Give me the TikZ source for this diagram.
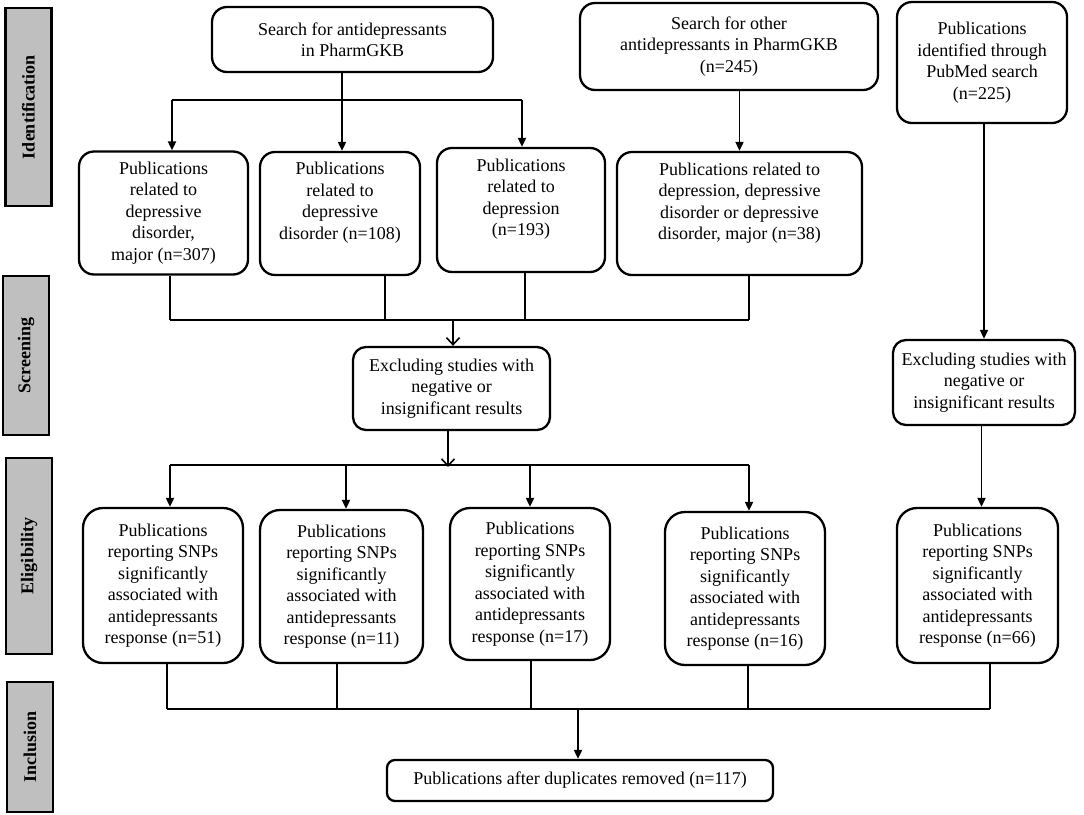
\documentclass[tikz,border=0pt]{standalone}
\usepackage{fontspec}
\setmainfont{Liberation Serif}
\usetikzlibrary{arrows.meta}
\begin{document}
\begin{tikzpicture}[x=1pt,y=-1pt,
  box/.style={draw, line width=2.3pt, rounded corners=15pt, align=center, inner sep=2pt,
    font=\fontsize{18}{21.5}\selectfont},
  sidebar/.style={draw, line width=2.6pt, fill=gray!50, minimum width=46pt, inner sep=0pt},
  sidelabel/.style={rotate=90, font=\fontsize{18}{21}\selectfont\bfseries},
  conn/.style={line width=1.9pt},
  arr/.style={conn, -{Triangle[length=9pt,width=8pt]}},
  varr/.style={conn, -{Straight Barb[length=7pt,width=13pt,line width=1.6pt]}}
]
\useasboundingbox (0,0) rectangle (1084,814);

% side bars
\node[sidebar, minimum height=198pt] (id) at (28.5,107) {};
\node[sidelabel] at (id.center) {Identification};
\node[sidebar, minimum height=159pt] (sc) at (26,355.5) {};
\node[sidelabel] at (sc.center) {Screening};
\node[sidebar, minimum height=196pt] (el) at (29,556) {};
\node[sidelabel] at (el.center) {Eligibility};
\node[sidebar, minimum height=130pt] (in) at (30,747) {};
\node[sidelabel] at (in.center) {Inclusion};

% top row
\node[box, minimum width=281pt, minimum height=65pt] (s1) at (352.5,39.5)
  {Search for antidepressants\\in PharmGKB};
\node[box, minimum width=298pt, minimum height=87pt] (s2) at (729,46.5)
  {Search for other\\antidepressants in PharmGKB\\(n=245)};
\node[box, minimum width=170pt, minimum height=121pt] (s3) at (982,62.5)
  {Publications\\identified through\\PubMed search\\(n=225)};

% second row
\node[box, minimum width=169pt, minimum height=123pt] (b1) at (163.5,213)
  {Publications\\related to\\depressive\\disorder,\\major (n=307)};
\node[box, minimum width=160pt, minimum height=123pt] (b2) at (340,213.5)
  {Publications\\related to\\depressive\\disorder (n=108)\\[4pt]};
\node[box, minimum width=168pt, minimum height=124pt] (b3) at (521,210)
  {Publications\\related to\\depression\\(n=193)\\[4pt]};
\node[box, minimum width=245pt, minimum height=123pt] (b4) at (739.5,213.5)
  {Publications related to\\depression, depressive\\disorder or depressive\\disorder, major (n=38)\\[3pt]};

% screening
\node[box, rounded corners=13pt, minimum width=197pt, minimum height=83pt] (e1) at (451.5,388.5)
  {Excluding studies with\\negative or\\insignificant results};
\node[box, rounded corners=13pt, minimum width=182pt, minimum height=85pt] (e2) at (984,382.5)
  {Excluding studies with\\negative or\\insignificant results};

% eligibility row
\node[box, rounded corners=20pt, minimum width=160pt, minimum height=155pt] (r1) at (163,585.5)
  {Publications\\reporting SNPs\\significantly\\associated with\\antidepressants\\response (n=51)};
\node[box, rounded corners=20pt, minimum width=163pt, minimum height=153pt] (r2) at (341.5,586.5)
  {Publications\\reporting SNPs\\significantly\\associated with\\antidepressants\\response (n=11)};
\node[box, rounded corners=20pt, minimum width=160pt, minimum height=152pt] (r3) at (530,584)
  {Publications\\reporting SNPs\\significantly\\associated with\\antidepressants\\response (n=17)};
\node[box, rounded corners=20pt, minimum width=160pt, minimum height=153pt] (r4) at (745,588.5)
  {Publications\\reporting SNPs\\significantly\\associated with\\antidepressants\\response (n=16)};
\node[box, rounded corners=20pt, minimum width=161pt, minimum height=155pt] (r5) at (977.5,585.5)
  {Publications\\reporting SNPs\\significantly\\associated with\\antidepressants\\response (n=66)};

% final
\node[box, rounded corners=8pt, minimum width=386pt, minimum height=41pt] (f) at (580,780.5)
  {Publications after duplicates removed (n=117)};

% junction coordinates
\coordinate (j1) at (342,100);
\coordinate (j2) at (453,320);
\coordinate (j3) at (448,465);
\coordinate (j4) at (578,709);

% top connectors
\draw[conn] (s1.south -| j1) -- (j1);
\draw[conn] ([xshift=8.5pt]b1.north |- j1) -- ([xshift=1pt]b3.north |- j1);
\draw[arr] ([xshift=8.5pt]b1.north |- j1) -- ([xshift=8.5pt]b1.north);
\draw[arr] (j1) -- (j1 |- b2.north);
\draw[arr] ([xshift=1pt]b3.north |- j1) -- ([xshift=1pt]b3.north);
\draw[arr] (s2.south -| b4.north) -- (b4.north);
\draw[arr] (s3.south -| e2.north) -- (e2.north);

% second row to screening
\draw[conn] ([xshift=6.5pt]b1.south) -- ([xshift=6.5pt]b1.south |- j2);
\draw[conn] ([xshift=45pt]b2.south) -- ([xshift=45pt]b2.south |- j2);
\draw[conn] ([xshift=4pt]b3.south) -- ([xshift=4pt]b3.south |- j2);
\draw[conn] ([xshift=9.5pt]b4.south) -- ([xshift=9.5pt]b4.south |- j2);
\draw[conn] ([xshift=6.5pt]b1.south |- j2) -- ([xshift=9.5pt]b4.south |- j2);
\draw[varr] (j2) -- (j2 |- e1.north);

% screening to eligibility
\draw[varr] (e1.south -| j3) -- ([yshift=-2pt]j3);
\draw[conn] ([xshift=7pt]r1.north |- j3) -- ([xshift=4pt]r4.north |- j3);
\draw[arr] ([xshift=7pt]r1.north |- j3) -- ([xshift=7pt]r1.north);
\draw[arr] ([xshift=4.5pt]r2.north |- j3) -- ([xshift=4.5pt]r2.north);
\draw[arr] (r3.north |- j3) -- (r3.north);
\draw[arr] ([xshift=4pt]r4.north |- j3) -- ([xshift=4pt]r4.north);
\draw[arr] ([xshift=4pt]r5.north |- e2.south) -- ([xshift=4pt]r5.north);

% eligibility to inclusion
\draw[conn] ([xshift=4pt]r1.south) -- ([xshift=4pt]r1.south |- j4);
\draw[conn] ([xshift=-4.5pt]r2.south) -- ([xshift=-4.5pt]r2.south |- j4);
\draw[conn] ([xshift=1pt]r3.south) -- ([xshift=1pt]r3.south |- j4);
\draw[conn] ([xshift=3pt]r4.south) -- ([xshift=3pt]r4.south |- j4);
\draw[conn] ([xshift=12.5pt]r5.south) -- ([xshift=12.5pt]r5.south |- j4);
\draw[conn] ([xshift=4pt]r1.south |- j4) -- ([xshift=12.5pt]r5.south |- j4);
\draw[arr] (j4) -- (j4 |- f.north);
\end{tikzpicture}
\end{document}
